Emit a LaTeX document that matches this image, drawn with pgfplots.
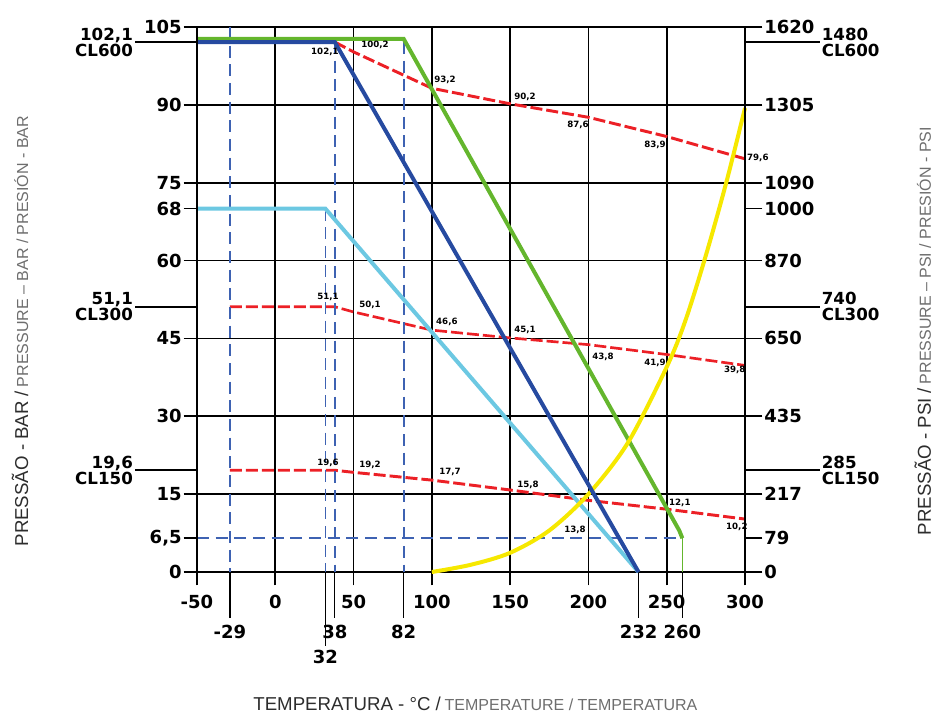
\documentclass[border=0pt]{standalone}
\usepackage{pgfplots}
\pgfplotsset{compat=1.18}
\usepackage{fontspec}
\setmainfont{Liberation Sans}
\newfontfamily\tkfont{DejaVu Sans}
\newcommand{\tk}{\tkfont\bfseries\fontsize{13.5}{14}\selectfont}
\newcommand{\cl}{\tkfont\bfseries\fontsize{12.5}{12}\selectfont}
\newcommand{\dl}{\tkfont\bfseries\fontsize{6.5}{7}\selectfont}
\definecolor{cgreen}{RGB}{100,182,45}
\definecolor{cblue}{RGB}{38,74,160}
\definecolor{ccyan}{RGB}{108,200,226}
\definecolor{cred}{RGB}{236,32,38}
\definecolor{cyellow}{RGB}{246,232,0}
\definecolor{cdash}{RGB}{62,98,178}
\definecolor{dkgray}{RGB}{45,45,45}
\definecolor{ltgray}{RGB}{110,110,110}
\begin{document}
\begin{tikzpicture}
\begin{axis}[
  scale only axis, width=411pt, height=408.75pt,
  xmin=-50, xmax=300, ymin=0, ymax=105,
  clip=false,
  axis line style={line width=1.2pt},
  grid=major, grid style={black, line width=1.2pt},
  xtick={-50,0,50,100,150,200,250,300},
  xticklabels={-50,0,50,100,150,200,250,300},
  ytick={0,15,30,45,60,75,90,105},
  yticklabels={0,15,30,45,60,75,90,105},
  extra y ticks={6.5,70},
  extra y tick labels={{6,5},68},
  extra y tick style={grid=none},
  tick align=outside,
  xtick pos=left, ytick pos=left,
  major tick length=10pt,
  every tick/.style={black, line width=1.2pt},
  tick label style={font=\tk, text=black},
  xticklabel style={yshift=-4pt},
  yticklabel style={xshift=2pt},
]
% red pressure-temperature rating lines (dashed)
\addplot[cred, line width=2.2pt, dash pattern=on 9pt off 3pt] coordinates {(38,102.1)(50,100.2)(100,93.2)(150,90.2)(200,87.6)(250,83.9)(300,79.6)};
\addplot[cred, line width=2pt, dash pattern=on 9pt off 3pt] coordinates {(-29,51.1)(38,51.1)(50,50.1)(100,46.6)(150,45.1)(200,43.8)(250,41.9)(300,39.8)};
\addplot[cred, line width=2.2pt, dash pattern=on 9pt off 3pt] coordinates {(-29,19.6)(38,19.6)(50,19.2)(100,17.7)(150,15.8)(200,13.8)(250,12.1)(300,10.2)};
% blue dashed guide lines
\addplot[cdash, line width=1.3pt, dash pattern=on 9pt off 5pt] coordinates {(-29,105)(-29,0)};
\addplot[cdash, line width=1.3pt, dash pattern=on 9pt off 5pt] coordinates {(32,70)(32,0)};
\addplot[cdash, line width=1.3pt, dash pattern=on 9pt off 5pt] coordinates {(38,102.1)(38,0)};
\addplot[cdash, line width=1.3pt, dash pattern=on 9pt off 5pt] coordinates {(82,102.1)(82,0)};
\addplot[cdash, line width=1.3pt, dash pattern=on 9pt off 5pt] coordinates {(-50,6.5)(260,6.5)};
% extension lines below the axis
\addplot[black, line width=1pt] coordinates {(-29,0)(-29,-8.9)};
\addplot[black, line width=1pt] coordinates {(32,0)(32,-14.3)};
\addplot[black, line width=1pt] coordinates {(38,0)(38,-8.9)};
\addplot[black, line width=1pt] coordinates {(82,0)(82,-8.9)};
\addplot[black, line width=1pt] coordinates {(232,0)(232,-8.9)};
\addplot[black, line width=1pt] coordinates {(260,0)(260,-8.9)};
% material curves
\addplot[ccyan, line width=3pt] coordinates {(-50,70)(32,70)(232,0)};
\addplot[cgreen, line width=3pt] coordinates {(-50,102.7)(82,102.7)(258,8)(260,6.5)};
\addplot[cgreen, line width=1.2pt] coordinates {(260,6.5)(260,0)};
\addplot[cyellow, line width=3pt, smooth, tension=0.5] coordinates {(100,0)(125,1.4)(150,3.7)(175,8)(200,15)(225,24.8)(250,39.5)(262,48.5)(275,61)(288,75)(300,89.4)};
\addplot[cblue, line width=3pt] coordinates {(-50,102.1)(38,102.1)(232,0)};
% data labels
\begin{scope}[every node/.style={font=\dl, text=black, inner sep=0pt}]
\node at (axis cs:31.7,100.2) {102,1};
\node at (axis cs:63.7,101.5) {100,2};
\node at (axis cs:108.4,94.8) {93,2};
\node at (axis cs:159.5,91.5) {90,2};
\node at (axis cs:193.3,86.1) {87,6};
\node at (axis cs:242.5,82.3) {83,9};
\node at (axis cs:308.2,79.8) {79,6};
\node at (axis cs:33.7,53.0) {51,1};
\node at (axis cs:60.5,51.4) {50,1};
\node at (axis cs:109.6,48.2) {46,6};
\node at (axis cs:159.5,46.6) {45,1};
\node at (axis cs:209.3,41.4) {43,8};
\node at (axis cs:242.5,40.3) {41,9};
\node at (axis cs:293.5,38.9) {39,8};
\node at (axis cs:33.7,21.0) {19,6};
\node at (axis cs:60.5,20.6) {19,2};
\node at (axis cs:111.6,19.3) {17,7};
\node at (axis cs:161.4,16.8) {15,8};
\node at (axis cs:191.4,8.1) {13,8};
\node at (axis cs:258.4,13.3) {12,1};
\node at (axis cs:294.8,8.7) {10,2};
\end{scope}
% extra x labels below axis
\begin{scope}[every node/.style={font=\tk, text=black, inner sep=0pt}]
\node at (axis cs:-29,-11.6) {-29};
\node at (axis cs:38,-11.6) {38};
\node at (axis cs:82,-11.6) {82};
\node at (axis cs:232,-11.6) {232};
\node at (axis cs:260,-11.6) {260};
\node at (axis cs:32,-16.4) {32};
\end{scope}
% class lines (left)
\draw[black, line width=1.2pt] (axis cs:-50,102.1) -- ++(-46.5pt,0pt) node[anchor=east, align=right, font=\cl, inner sep=1pt] {102,1\\CL600};
\draw[black, line width=1.2pt] (axis cs:-50,51.1) -- ++(-46.5pt,0pt) node[anchor=east, align=right, font=\cl, inner sep=1pt] {51,1\\CL300};
\draw[black, line width=1.2pt] (axis cs:-50,19.6) -- ++(-46.5pt,0pt) node[anchor=east, align=right, font=\cl, inner sep=1pt] {19,6\\CL150};
% class lines (right)
\draw[black, line width=1.2pt] (axis cs:300,102.1) -- ++(56pt,0pt) node[anchor=west, align=left, font=\cl, inner sep=1pt] {1480\\CL600};
\draw[black, line width=1.2pt] (axis cs:300,51.1) -- ++(56pt,0pt) node[anchor=west, align=left, font=\cl, inner sep=1pt] {740\\CL300};
\draw[black, line width=1.2pt] (axis cs:300,19.6) -- ++(56pt,0pt) node[anchor=west, align=left, font=\cl, inner sep=1pt] {285\\CL150};
% axis titles
\node[anchor=base] at (axis cs:127.8,-26.6) {{\color{dkgray}\fontsize{14}{14}\selectfont TEMPERATURA - °C /} {\color{ltgray}\fontsize{12}{12}\selectfont TEMPERATURE / TEMPERATURA}};
\node[rotate=90] at (axis cs:-163,46.4) {{\color{dkgray}\fontsize{14}{14}\selectfont PRESSÃO - BAR /} {\color{ltgray}\fontsize{12}{12}\selectfont PRESSURE – BAR / PRESIÓN - BAR}};
\node[rotate=90, inner sep=1pt] at (axis cs:413.5,46.4) {{\color{dkgray}\fontsize{14}{14}\selectfont PRESSÃO - PSI /} {\color{ltgray}\fontsize{12}{12}\selectfont PRESSURE – PSI / PRESIÓN - PSI}};
\end{axis}
\begin{axis}[
  scale only axis, width=411pt, height=408.75pt,
  xmin=-50, xmax=300, ymin=0, ymax=105,
  hide x axis,
  axis line style={line width=1.2pt},
  ytick={0,6.5,15,30,45,60,70,75,90,105},
  yticklabels={0,79,217,435,650,870,1000,1090,1305,1620},
  ytick pos=right, yticklabel pos=right,
  tick align=outside, major tick length=13pt,
  every tick/.style={black, line width=1.2pt},
  tick label style={font=\tk, text=black},
  yticklabel style={xshift=-2pt},
]
\addplot[draw=none] coordinates {(0,0)(300,105)};
\end{axis}
\pgfresetboundingbox
\path ([shift={(-147.75pt,-106.5pt)}]current axis.south west) rectangle ([shift={(144pt,20.25pt)}]current axis.north east);
\end{tikzpicture}
\end{document}
